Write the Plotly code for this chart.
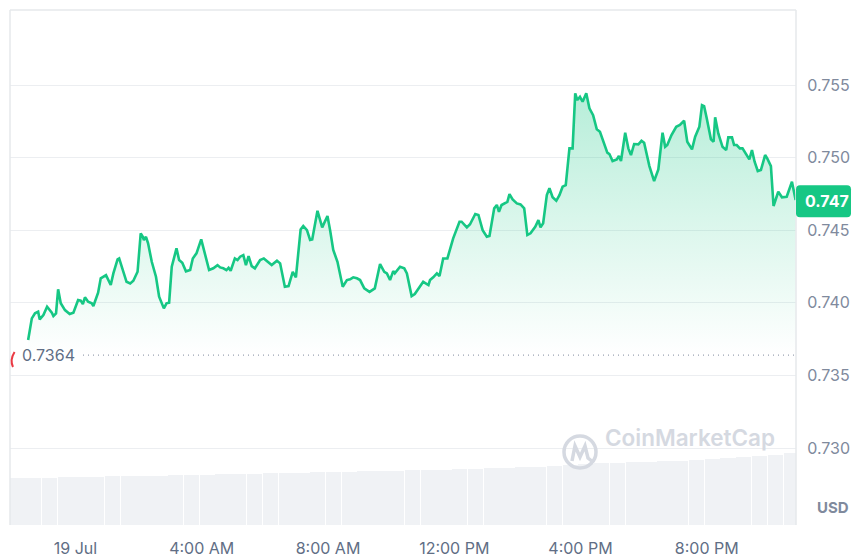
import pandas as pd
import plotly.graph_objects as go

# ---- data ----
# minutes relative to 19 Jul 00:00
minutes = [
    -90, -83, -77, -71, -68, -61, -54, -45, -42, -37,
    -33, -28, -20, -11, -4, 5, 10, 14, 18, 24,
    31, 34, 43, 48, 58, 62, 67, 72, 80, 83,
    88, 97, 104, 110, 118, 124, 128, 130, 134, 138,
    145, 153, 159, 168, 173, 178, 183, 192, 197, 203,
    210, 218, 223, 230, 239, 246, 254, 262, 270, 275,
    281, 287, 291, 295, 303, 308, 313, 319, 324, 329,
    335, 341, 351, 358, 373, 383, 389, 398, 405, 413,
    419, 428, 433, 440, 446, 450, 460, 469, 479, 484,
    490, 498, 508, 516, 522, 528, 535, 541, 549, 559,
    569, 579, 587, 592, 598, 604, 607, 617, 625, 630,
    639, 645, 652, 661, 671, 674, 680, 687, 692, 699,
    707, 718, 730, 734, 744, 750, 760, 766, 774, 782,
    787, 796, 801, 805, 810, 817, 821, 825, 831, 839,
    846, 853, 859, 865, 874, 880, 884, 889, 896, 901,
    907, 914, 920, 926, 932, 939, 945, 950, 954, 959,
    964, 971, 977, 984, 991, 997, 1003, 1011, 1015, 1021,
    1029, 1033, 1037, 1045, 1051, 1056, 1062, 1070, 1076, 1081,
    1091, 1100, 1108, 1116, 1121, 1125, 1133, 1142, 1149, 1157,
    1163, 1172, 1178, 1186, 1191, 1195, 1200, 1208, 1213, 1216,
    1222, 1230, 1237, 1241, 1248, 1252, 1257, 1263, 1268, 1275,
    1281, 1286, 1291, 1297, 1303, 1311, 1315, 1322, 1327, 1336,
    1343, 1352, 1362, 1369,
]
prices = [
    0.73744, 0.73893, 0.73928, 0.73939, 0.73886, 0.73916, 0.73973, 0.73932, 0.73909, 0.73928,
    0.74093, 0.73997, 0.73950, 0.73923, 0.73932, 0.74019, 0.74015, 0.73992, 0.74038, 0.74008,
    0.73997, 0.73978, 0.74070, 0.74169, 0.74191, 0.74162, 0.74123, 0.74203, 0.74300, 0.74306,
    0.74249, 0.74145, 0.74134, 0.74152, 0.74214, 0.74479, 0.74455, 0.74433, 0.74455, 0.74410,
    0.74283, 0.74180, 0.74042, 0.73962, 0.73997, 0.74001, 0.74249, 0.74375, 0.74295, 0.74276,
    0.74217, 0.74226, 0.74306, 0.74341, 0.74437, 0.74341, 0.74226, 0.74238, 0.74260, 0.74244,
    0.74238, 0.74226, 0.74242, 0.74221, 0.74306, 0.74295, 0.74318, 0.74329, 0.74260, 0.74322,
    0.74253, 0.74238, 0.74295, 0.74306, 0.74260, 0.74290, 0.74272, 0.74111, 0.74116, 0.74214,
    0.74176, 0.74506, 0.74529, 0.74501, 0.74433, 0.74437, 0.74634, 0.74520, 0.74598, 0.74501,
    0.74364, 0.74283, 0.74111, 0.74157, 0.74162, 0.74176, 0.74169, 0.74157, 0.74100, 0.74076,
    0.74100, 0.74267, 0.74214, 0.74203, 0.74157, 0.74219, 0.74203, 0.74249, 0.74238, 0.74203,
    0.74047, 0.74061, 0.74100, 0.74145, 0.74123, 0.74157, 0.74176, 0.74203, 0.74185, 0.74306,
    0.74306, 0.74444, 0.74559, 0.74559, 0.74520, 0.74541, 0.74612, 0.74605, 0.74501, 0.74455,
    0.74460, 0.74651, 0.74674, 0.74627, 0.74674, 0.74689, 0.74696, 0.74749, 0.74713, 0.74685,
    0.74678, 0.74651, 0.74467, 0.74479, 0.74524, 0.74570, 0.74520, 0.74548, 0.74742, 0.74789,
    0.74727, 0.74703, 0.74742, 0.74800, 0.74811, 0.75064, 0.75064, 0.75443, 0.75397, 0.75419,
    0.75385, 0.75443, 0.75340, 0.75293, 0.75195, 0.75178, 0.75121, 0.75034, 0.75025, 0.74977,
    0.74988, 0.75011, 0.74977, 0.75172, 0.75064, 0.75018, 0.75094, 0.75092, 0.75116, 0.75103,
    0.74942, 0.74839, 0.74919, 0.75172, 0.75075, 0.75087, 0.75156, 0.75213, 0.75225, 0.75254,
    0.75110, 0.75057, 0.75144, 0.75213, 0.75362, 0.75355, 0.75271, 0.75126, 0.75110, 0.75278,
    0.75167, 0.75075, 0.75052, 0.75140, 0.75140, 0.75087, 0.75087, 0.75064, 0.75064, 0.75025,
    0.74988, 0.75052, 0.74972, 0.74908, 0.74915, 0.75018, 0.74995, 0.74942, 0.74667, 0.74765,
    0.74727, 0.74731, 0.74834, 0.74708,
]
volume = [47, 47, 47, 48, 48, 48, 49, 49, 49, 49,
          50, 50, 50, 51, 51, 51, 52, 52, 52, 53,
          53, 53, 54, 54, 54, 55, 55, 55, 56, 56,
          57, 57, 58, 58, 59, 60, 61, 62, 62, 63,
          63, 64, 64, 65, 66, 67, 68, 69, 70, 72]
open_price = 0.7364
last_price = 0.747
y_ticks = [0.730, 0.735, 0.740, 0.745, 0.750, 0.755]
x_tick_hours = [0, 4, 8, 12, 16, 20]
x_tick_text = ["19 Jul", "4:00 AM", "8:00 AM", "12:00 PM", "4:00 PM", "8:00 PM"]

assert len(minutes) == len(prices)

base = pd.Timestamp("2024-07-19 00:00")
times = base + pd.to_timedelta(minutes, unit="min")
x_start = base + pd.Timedelta(minutes=-124.5)
x_end = base + pd.Timedelta(minutes=1369.7)
vol_times = pd.date_range(x_start + pd.Timedelta(minutes=15), periods=len(volume), freq="30min")
tick_vals = [base + pd.Timedelta(hours=h) for h in x_tick_hours]

GREEN = "#16c784"
fig = go.Figure()

fig.add_trace(go.Bar(
    x=vol_times, y=volume, yaxis="y2",
    marker=dict(color="#f0f2f5", line=dict(width=0)),
    width=30 * 60 * 1000 * 0.97, hoverinfo="skip", showlegend=False,
))

fig.add_trace(go.Scatter(
    x=times, y=prices, mode="lines",
    line=dict(color=GREEN, width=2.6, shape="linear"),
    fill="tozeroy",
    fillgradient=dict(type="vertical",
                      colorscale=[[0, "rgba(22,199,132,0)"], [1, "rgba(22,199,132,0.32)"]],
                      start=open_price, stop=0.7550),
    showlegend=False,
))

ylo, yhi = 0.72470, 0.76017
fig.update_layout(
    width=859, height=559,
    margin=dict(l=10, r=63, t=10, b=34, autoexpand=False),
    paper_bgcolor="white", plot_bgcolor="white",
    font=dict(family="Inter, Roboto, sans-serif"),
    bargap=0,
    xaxis=dict(
        type="date", range=[x_start, x_end], automargin=False,
        tickvals=tick_vals, ticktext=x_tick_text,
        tickfont=dict(size=16, color="#616e85"),
        ticks="outside", ticklen=9, tickcolor="rgba(0,0,0,0)",
        showgrid=False, zeroline=False, showline=False,
    ),
    yaxis=dict(
        side="right", range=[ylo, yhi], tickvals=y_ticks, tickformat=".3f",
        automargin=False,
        tickfont=dict(size=16, color="#808a9d"),
        ticks="outside", ticklen=7, tickcolor="rgba(0,0,0,0)",
        showgrid=True, gridcolor="#eceef1", gridwidth=1,
        zeroline=False, showline=False,
    ),
    yaxis2=dict(overlaying="y", range=[0, 515], visible=False, fixedrange=True),
)

# plot-area borders
for s in [dict(x0=0, x1=1, y0=1, y1=1), dict(x0=0, x1=0, y0=0, y1=1), dict(x0=1, x1=1, y0=0, y1=1)]:
    fig.add_shape(type="line", xref="paper", yref="paper", line=dict(color="#e6e8eb", width=1.5), **s)

# dotted open-price line
fig.add_shape(type="line", xref="paper", yref="y", x0=(83 - 10) / 786, x1=1,
              y0=open_price, y1=open_price, line=dict(color="#9aa3b2", width=1.3, dash="1px,4px"))
fig.add_annotation(x=(20 - 10) / 786, xref="paper", y=open_price, yref="y", xanchor="left",
                   text=f"{open_price:.4f}", showarrow=False,
                   font=dict(size=16, color="#616e85"))
# small red arc at left edge
fig.add_shape(type="path", xref="paper", yref="paper",
              path="M 0.0058,0.3359 Q -0.0005,0.3204 0.0038,0.3068",
              line=dict(color="#ea3943", width=2))

# last price box
hh = 16 / 14520
rx, ry = 4 / 786, 4 / 14520
x0b, x1b = 1.0, (851 - 10) / 786
y0b, y1b = last_price - hh, last_price + hh
path = (f"M {x0b},{y0b + ry} L {x0b},{y1b - ry} Q {x0b},{y1b} {x0b + rx},{y1b} "
        f"L {x1b - rx},{y1b} Q {x1b},{y1b} {x1b},{y1b - ry} L {x1b},{y0b + ry} "
        f"Q {x1b},{y0b} {x1b - rx},{y0b} L {x0b + rx},{y0b} Q {x0b},{y0b} {x0b},{y0b + ry} Z")
fig.add_shape(type="path", xref="paper", yref="y", path=path,
              fillcolor=GREEN, line=dict(width=0), layer="above")
fig.add_annotation(x=(827 - 10) / 786, xref="paper", xanchor="center", y=last_price, yref="y",
                   text=f"<b>{last_price:.3f}</b>", showarrow=False,
                   font=dict(size=16, color="white"))

# USD label
fig.add_annotation(x=(833 - 10) / 786, xref="paper", xanchor="center",
                   y=(525 - 519) / 515, yref="paper",
                   text="<b>USD</b>", showarrow=False, font=dict(size=15, color="#808a9d"))

# watermark
WM = "#d5d9e1"
cx, cy, r = (580 - 10) / 786, (525 - 452) / 515, 16
fig.add_shape(type="circle", xref="paper", yref="paper",
              x0=cx - r / 786, x1=cx + r / 786, y0=cy - r / 515, y1=cy + r / 515,
              line=dict(color=WM, width=3.5), layer="above")
pts = [(572, 461), (575, 446), (580, 457), (585, 446), (588, 458), (593, 462)]
mp = "M " + " L ".join(f"{(px - 10) / 786},{(525 - py) / 515}" for px, py in pts)
fig.add_shape(type="path", xref="paper", yref="paper", path=mp,
              line=dict(color=WM, width=3.5), layer="above")
fig.add_annotation(x=(603 - 10) / 786, xref="paper", y=(525 - 453) / 515, yref="paper",
                   xanchor="left", text="CoinMarketCap", showarrow=False,
                   font=dict(size=22.5, color=WM, weight=600))

fig.write_html("out.html")
